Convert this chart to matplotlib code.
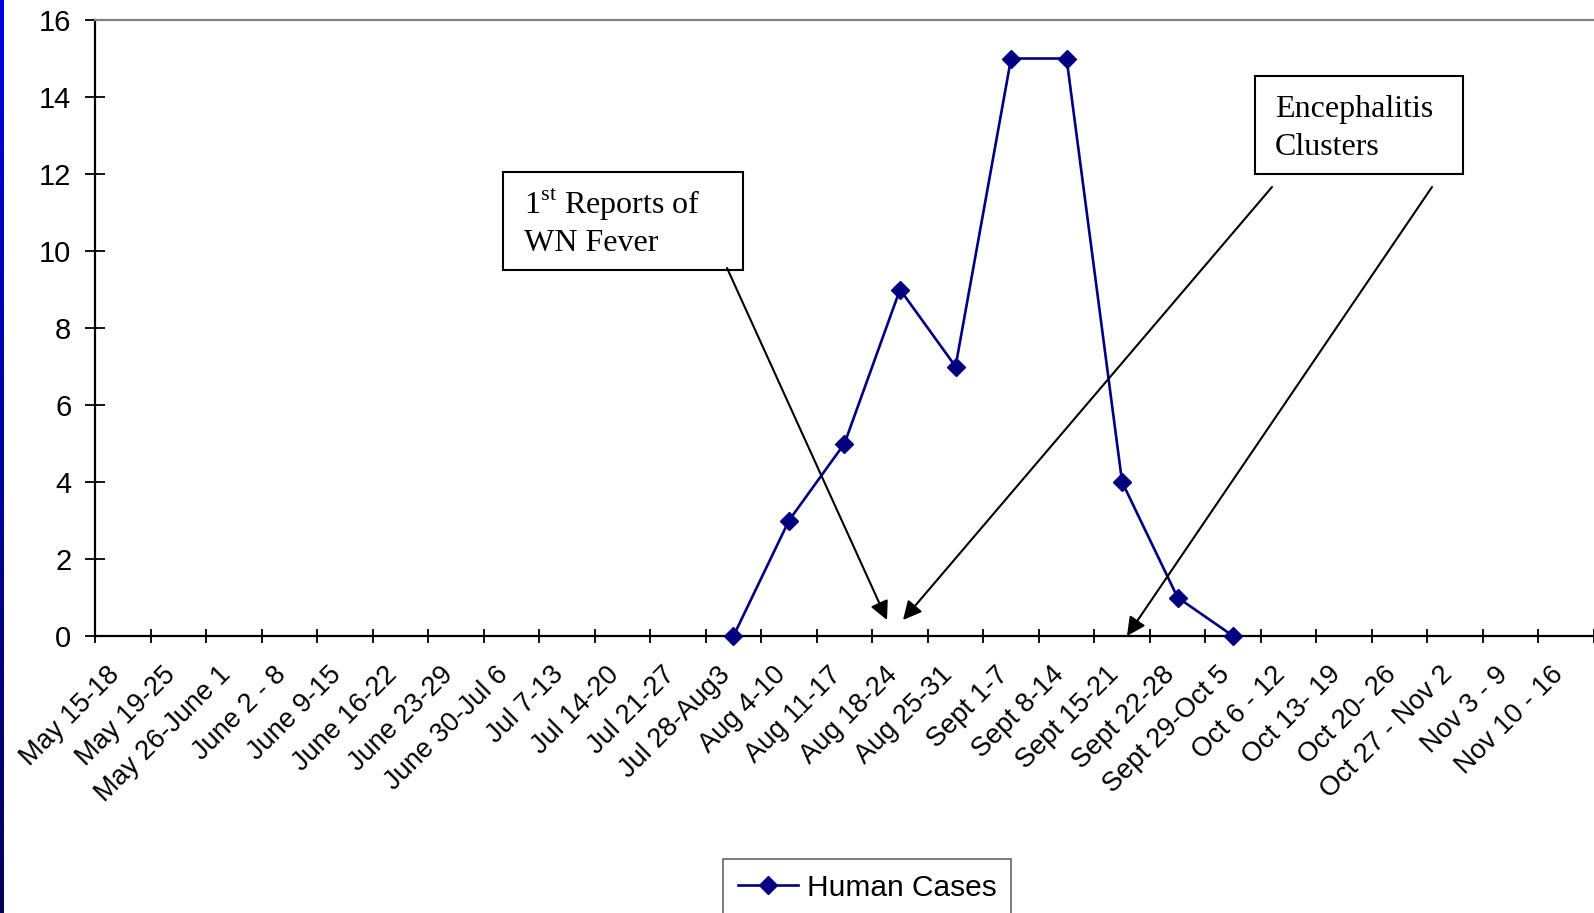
import numpy as np
import matplotlib
matplotlib.use("Agg")
import matplotlib.pyplot as plt
from matplotlib.patches import Rectangle, FancyArrowPatch
from matplotlib.transforms import ScaledTranslation

plt.rcParams['mathtext.fontset'] = 'custom'
plt.rcParams['mathtext.rm'] = 'Liberation Serif'

weeks = ["May 15-18", "May 19-25", "May 26-June 1", "June 2 - 8", "June 9-15",
         "June 16-22", "June 23-29", "June 30-Jul 6", "Jul 7-13", "Jul 14-20",
         "Jul 21-27", "Jul 28-Aug3", "Aug 4-10", "Aug 11-17", "Aug 18-24",
         "Aug 25-31", "Sept 1-7", "Sept 8-14", "Sept 15-21", "Sept 22-28",
         "Sept 29-Oct 5", "Oct 6 - 12", "Oct 13- 19", "Oct 20- 26",
         "Oct 27 - Nov 2", "Nov 3 - 9", "Nov 10 - 16"]
case_weeks = ["Jul 28-Aug3", "Aug 4-10", "Aug 11-17", "Aug 18-24", "Aug 25-31",
              "Sept 1-7", "Sept 8-14", "Sept 15-21", "Sept 22-28", "Sept 29-Oct 5"]
human_cases = [0, 3, 5, 9, 7, 15, 15, 4, 1, 0]
y_ticks = [0, 2, 4, 6, 8, 10, 12, 14, 16]

W, H = 1594, 913
fig = plt.figure(figsize=(W / 100, H / 100), dpi=100)
fig.patch.set_facecolor('white')

def fx(px):
    return px / W

def fy(py):
    return 1 - py / H

ax = fig.add_axes([fx(95), fy(636), fx(1594) - fx(95), fy(20) - fy(636)])
xpos = [weeks.index(w) for w in case_weeks]
ax.plot(xpos, human_cases, color='#000080', lw=1.9, marker='D', markersize=9.5,
        label='Human Cases', zorder=5, clip_on=False)

ax.set_xlim(-0.5, len(weeks) - 0.5)
ax.set_ylim(0, 16)
ax.set_yticks(y_ticks)
ax.set_yticklabels([str(v) for v in y_ticks], fontsize=21, family='Liberation Sans')
ax.tick_params(axis='y', direction='inout', length=14, width=1.3, pad=10, colors='black')

ax.set_xticks(np.arange(len(weeks)))
ax.set_xticklabels(weeks, rotation=45, ha='right', va='center',
                   rotation_mode='anchor', fontsize=19.5, family='Liberation Sans')
ax.tick_params(axis='x', which='major', length=0, pad=25)
shift = ScaledTranslation(-7 / 100, 0, fig.dpi_scale_trans)
for lab in ax.get_xticklabels():
    lab.set_transform(lab.get_transform() + shift)
ax.set_xticks(np.arange(len(weeks) + 1) - 0.5, minor=True)
ax.tick_params(axis='x', which='minor', direction='inout', length=10, width=1.3, color='black')

for s in ['left', 'bottom']:
    ax.spines[s].set_color('black')
    ax.spines[s].set_linewidth(1.6)
ax.spines['top'].set_color('#808080')
ax.spines['top'].set_linewidth(1.6)
ax.spines['right'].set_visible(False)

# left blue bar
bar = fig.add_axes([0, 0, fx(4), 1])
grad = np.linspace(0, 1, 256)
cols = np.zeros((256, 1, 3))
cols[:, 0, 2] = 0.9 - 0.55 * grad
bar.imshow(cols, aspect='auto', extent=[0, 1, 0, 1])
bar.axis('off')

# annotation boxes
for (x0, y0, x1, y1) in [(503, 172, 743, 270), (1255, 76, 1463, 174)]:
    fig.add_artist(Rectangle((fx(x0), fy(y1)), fx(x1) - fx(x0), fy(y0) - fy(y1),
                             transform=fig.transFigure, fill=False, ec='black', lw=1.5))

tkw = dict(fontsize=23, family='Liberation Serif', va='baseline', ha='left', color='black')
fig.text(fx(524), fy(214), r"1$^{\mathrm{st}}$ Reports of", **tkw)
fig.text(fx(524), fy(251), "WN Fever", **tkw)
fig.text(fx(1275), fy(117), "Encephalitis", **tkw)
fig.text(fx(1275), fy(155), "Clusters", **tkw)

akw = dict(arrowstyle='-|>', color='black', lw=1.5, mutation_scale=28, shrinkA=0, shrinkB=0)
for (sx, sy, ex, ey) in [(727, 268, 887, 620), (1272, 187, 903, 620), (1432, 187, 1127, 636)]:
    fig.add_artist(FancyArrowPatch((fx(sx), fy(sy)), (fx(ex), fy(ey)),
                                   transform=fig.transFigure, **akw))

leg = fig.legend(loc='upper left', bbox_to_anchor=(fx(723), fy(859)),
                 bbox_transform=fig.transFigure, frameon=True, fancybox=False,
                 prop={'family': 'Liberation Sans', 'size': 21.5}, handlelength=2.0,
                 borderpad=0.5, handletextpad=0.3, borderaxespad=0)
leg.get_frame().set_edgecolor('#404040')
leg.get_frame().set_linewidth(1.2)

fig.savefig('out.png', dpi=100)
